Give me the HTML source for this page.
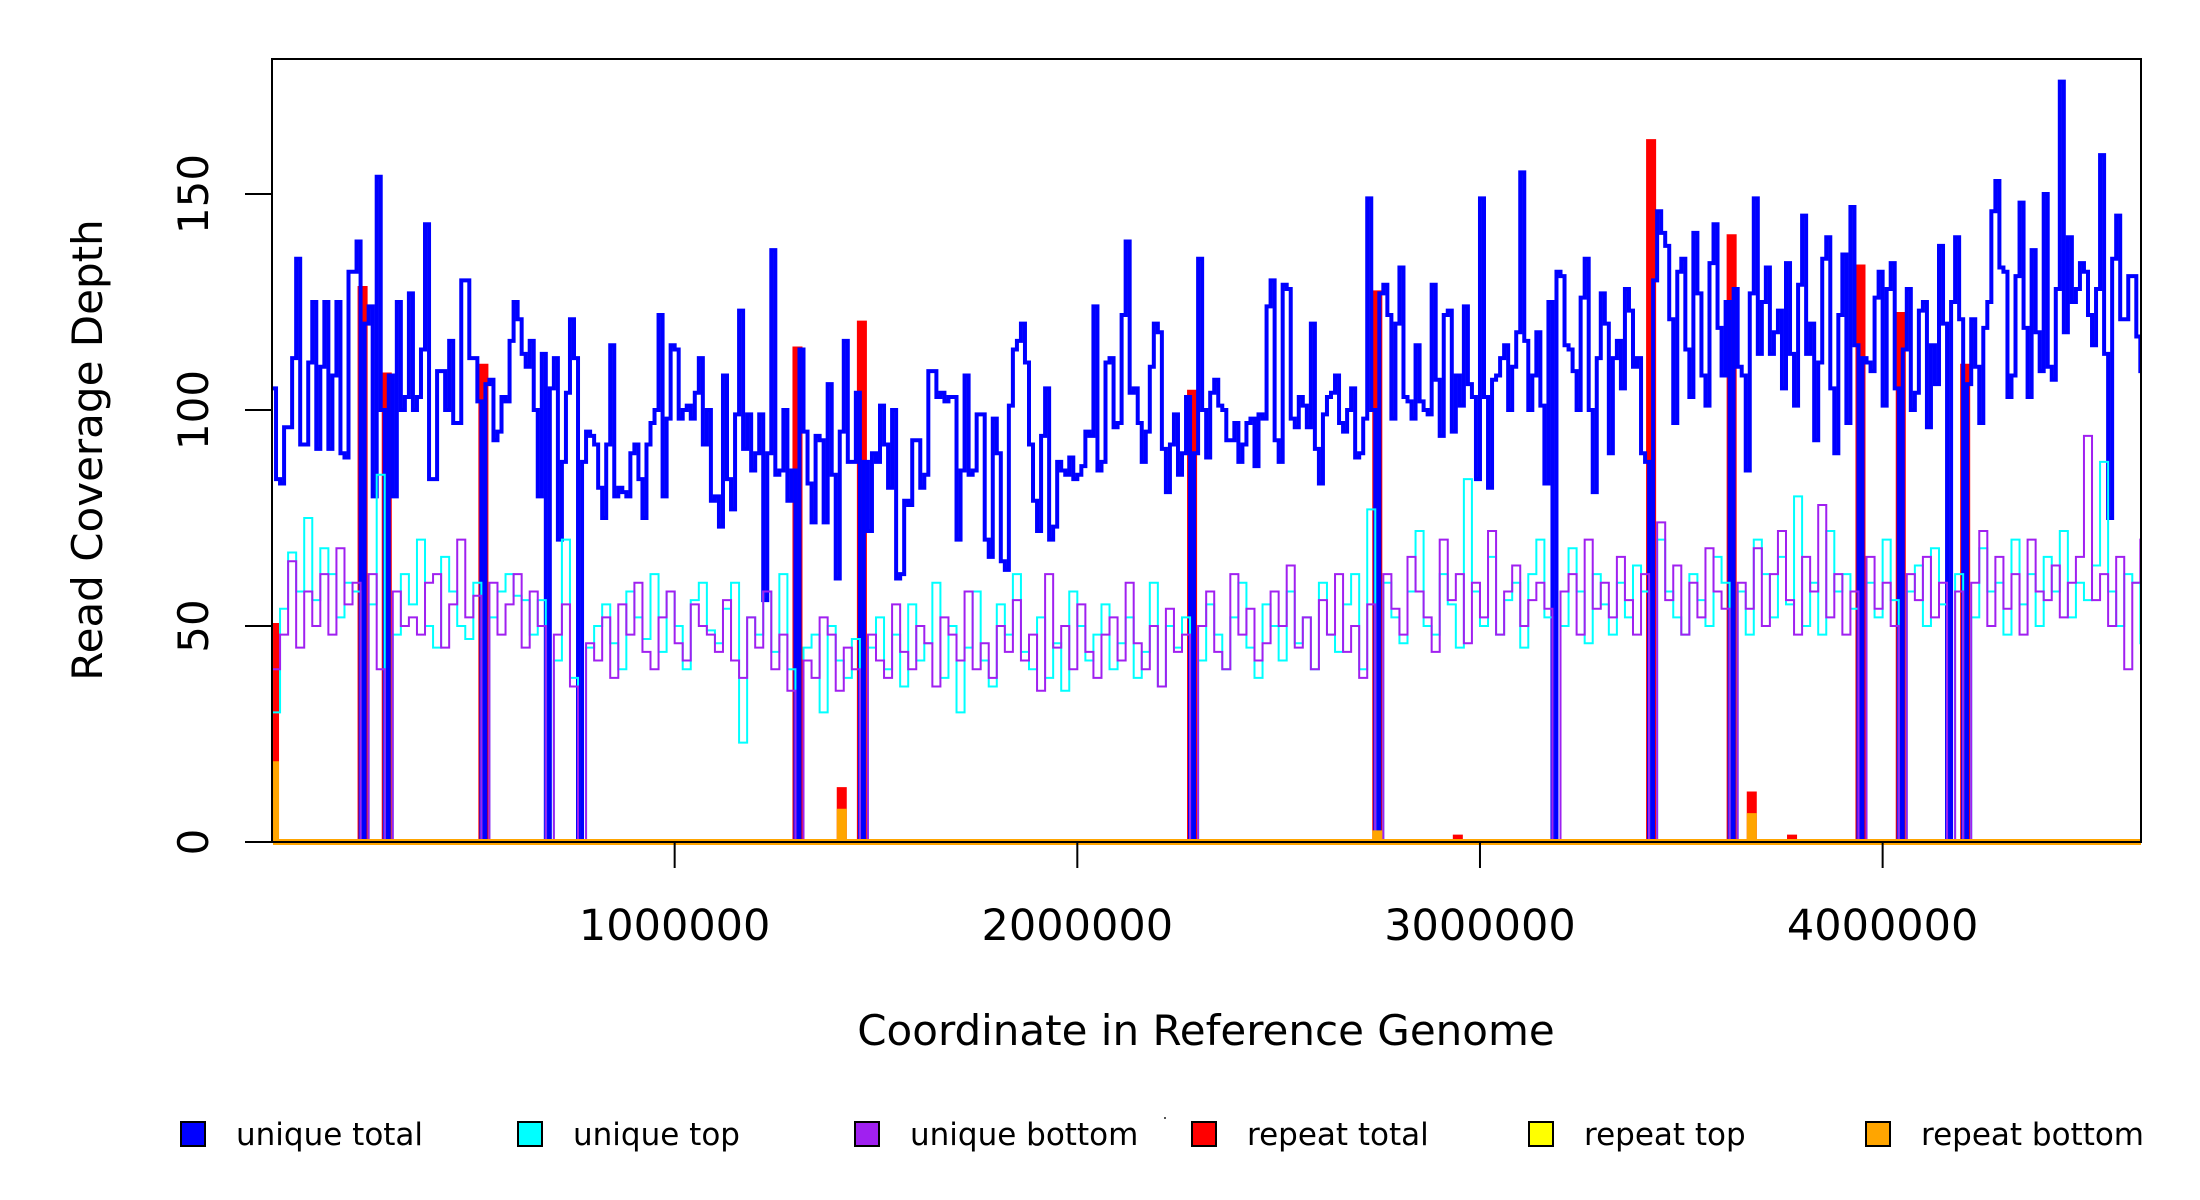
<!DOCTYPE html>
<html><head><meta charset="utf-8">
<style>
html,body{margin:0;padding:0;background:#fff;}
svg{display:block;font-family:"DejaVu Sans","Liberation Sans",sans-serif;}
</style></head>
<body>
<svg id="chart" width="2200" height="1200" viewBox="0 0 2200 1200" xmlns="http://www.w3.org/2000/svg">
<defs><clipPath id="plotclip"><rect x="272" y="59" width="1869" height="790"/></clipPath></defs>
<g id="series" clip-path="url(#plotclip)"></g>
<rect x="272" y="59" width="1869" height="783" fill="none" stroke="#000" stroke-width="2"/>
<g id="axes"></g>
<text x="1206" y="1045" font-size="42" text-anchor="middle">Coordinate in Reference Genome</text>
<text transform="translate(102,450) rotate(-90)" font-size="42" text-anchor="middle">Read Coverage Depth</text>
<g id="legend"></g>
<rect x="1164" y="1117" width="2" height="2" fill="#555"/>
</svg>
<script>
const totalBinSize = 10000;
const strandBinSize = 20000;
const genomeLength = 4641652;
const xTicks = [1000000, 2000000, 3000000, 4000000];
const xTickLabels = ["1000000", "2000000", "3000000", "4000000"];
const yTicks = [0, 50, 100, 150];
const yTickLabels = ["0", "50", "100", "150"];
const uniqueTotal = [105,84,83,96,96,112,135,92,92,111,125,91,110,125,91,108,125,90,89,132,
132,139,0,120,124,80,154,100,0,108,80,125,100,103,127,100,103,114,143,84,
84,109,109,100,116,97,97,130,130,112,112,102,0,106,107,93,95,103,102,116,
125,121,113,110,116,100,80,113,0,105,112,70,88,104,121,112,0,88,95,94,
92,82,75,92,115,80,82,81,80,90,92,84,75,92,97,100,122,80,98,115,
114,98,100,101,98,104,112,92,100,79,80,73,108,84,77,99,123,91,99,86,
90,99,56,90,137,85,86,100,79,86,0,114,95,83,74,94,93,74,106,85,
61,95,116,88,88,104,0,88,72,90,88,101,92,82,100,61,62,79,78,93,
93,82,85,109,109,103,104,102,103,103,70,86,108,85,86,99,99,70,66,98,
90,65,63,101,114,116,120,111,92,79,72,94,105,70,73,88,86,85,89,84,
85,87,95,94,124,86,88,111,112,96,97,122,139,104,105,97,88,95,110,120,
118,91,81,92,99,85,90,103,0,90,135,100,89,104,107,101,100,93,93,97,
88,92,97,98,87,99,98,124,130,93,88,129,128,98,96,103,101,96,120,91,
83,99,103,104,108,97,95,100,105,89,90,98,149,100,0,127,129,122,98,120,
133,103,102,98,115,102,100,99,129,107,94,122,123,95,108,101,124,106,103,84,
149,103,82,107,108,112,115,100,110,118,155,116,100,108,118,101,83,125,0,132,
131,115,114,109,100,126,135,100,81,112,127,120,90,112,116,105,128,123,110,112,
90,88,0,130,146,141,138,121,97,132,135,114,103,141,127,108,101,134,143,119,
108,125,0,128,110,108,86,127,149,113,125,133,113,118,123,105,134,113,101,129,
145,113,120,93,111,135,140,105,90,122,136,97,147,115,0,112,111,109,126,132,
101,128,134,105,0,114,128,100,104,123,125,96,115,106,138,120,0,125,140,121,
0,106,121,110,97,119,125,146,153,133,132,103,108,131,148,119,103,137,118,109,
150,110,107,128,176,118,140,125,128,134,132,122,115,128,159,113,75,135,145,121,
121,131,131,117,109,120];
const uniqueTop = [30,54,67,58,75,56,68,62,52,60,58,0,55,85,0,48,62,55,70,50,45,66,58,50,47,60,0,52,58,62,57,56,48,56,0,42,70,38,0,45,50,55,46,40,58,52,47,62,44,58,50,40,56,60,49,46,54,60,23,52,48,58,44,62,40,0,45,48,30,50,42,38,47,0,45,52,40,48,36,55,42,46,60,38,50,30,45,58,42,36,55,48,62,44,40,52,38,46,35,58,50,42,48,55,40,46,52,38,44,60,36,50,45,52,0,42,55,48,40,52,60,45,38,55,50,42,58,46,52,40,60,48,44,55,62,40,77,0,60,52,46,58,72,50,48,62,55,45,84,58,50,66,48,56,60,45,62,70,52,0,50,68,58,46,62,55,48,60,52,64,58,0,70,58,52,48,62,56,50,66,60,0,58,48,70,62,52,66,55,80,50,60,48,72,58,62,54,0,60,52,70,56,0,58,64,50,68,55,0,62,0,52,68,58,60,48,70,55,62,50,66,58,72,52,60,56,64,88,58,50,62,60,46];
const uniqueBottom = [40,48,65,45,58,50,62,48,68,55,60,0,62,40,0,58,50,52,48,60,62,45,55,70,52,57,0,60,48,55,62,45,58,50,0,48,55,36,0,46,42,52,38,55,48,60,44,40,52,58,46,42,55,50,48,44,56,42,38,52,45,58,40,48,35,0,42,38,52,48,35,45,40,0,48,42,38,55,44,40,50,46,36,52,48,42,58,40,46,38,50,44,56,42,48,35,62,45,50,40,55,44,38,48,52,42,60,46,40,50,36,54,44,48,0,50,58,44,40,62,48,54,42,46,58,50,64,45,52,40,56,48,62,44,50,38,55,0,62,54,48,66,58,52,44,70,56,62,46,60,52,72,48,58,64,50,56,60,54,0,58,62,48,70,54,60,52,66,56,48,62,0,74,56,64,48,60,52,68,58,54,0,60,54,68,50,62,72,56,48,66,58,78,52,62,48,58,0,66,54,60,50,0,62,56,66,52,60,0,58,0,60,72,50,66,54,62,48,70,58,56,64,52,60,66,94,56,62,50,66,40,60,70];
const repeatBins = [0, 22, 28, 52, 130, 141, 146, 228, 274, 294, 342, 362, 367, 377, 394, 404, 420];
const repeatTotalVals = [50, 128, 108, 110, 114, 12, 120, 104, 127, 1, 162, 140, 11, 1, 133, 122, 110];
const repeatTopVals = [10, 0, 0, 0, 0, 3, 0, 0, 2, 0, 0, 0, 3, 0, 0, 0, 0];
const repeatBottomVals = [18, 0, 0, 0, 0, 7, 0, 0, 2, 0, 0, 0, 6, 0, 0, 0, 0];

const X0 = 272, X1 = 2141, Y0 = 842, PXU = 4.32;
const xs = v => X0 + v / genomeLength * (X1 - X0);
const ys = v => Y0 - v * PXU;
const NS = "http://www.w3.org/2000/svg";
const nRepeat = Math.ceil(genomeLength / totalBinSize);

function expand(bins, vals) {
  const out = new Array(nRepeat).fill(0);
  bins.forEach((b, i) => { out[b] = vals[i]; });
  return out;
}
function stepPath(vals, bs) {
  let d = "M" + xs(0).toFixed(2) + " " + ys(vals[0]).toFixed(2);
  for (let i = 0; i < vals.length; i++) {
    d += " H" + xs((i + 1) * bs).toFixed(2);
    if (i + 1 < vals.length) d += " V" + ys(vals[i + 1]).toFixed(2);
  }
  return d;
}
const seriesG = document.getElementById("series");
function addSeries(vals, bs, color, w, name) {
  const p = document.createElementNS(NS, "path");
  p.setAttribute("d", stepPath(vals, bs));
  p.setAttribute("fill", "none");
  p.setAttribute("stroke", color);
  p.setAttribute("stroke-width", w);
  p.setAttribute("stroke-linejoin", "miter");
  
  
  seriesG.appendChild(p);
}
addSeries(expand(repeatBins, repeatTotalVals), totalBinSize, "#ff0000", 6, "repeat-total-line");
addSeries(uniqueTotal, totalBinSize, "#0000ff", 4, "unique-total-line");
addSeries(uniqueTop, strandBinSize, "#00ffff", 2, "unique-top-line");
addSeries(uniqueBottom, strandBinSize, "#a020f0", 2, "unique-bottom-line");
addSeries(expand(repeatBins, repeatTopVals), totalBinSize, "#ffff00", 2, "repeat-top-line");
addSeries(expand(repeatBins, repeatBottomVals), totalBinSize, "#ffa500", 6, "repeat-bottom-line");

const axesG = document.getElementById("axes");
xTicks.forEach((t, i) => {
  const l = document.createElementNS(NS, "line");
  l.setAttribute("x1", xs(t)); l.setAttribute("x2", xs(t));
  l.setAttribute("y1", 842); l.setAttribute("y2", 868);
  l.setAttribute("stroke", "#000"); l.setAttribute("stroke-width", 2);
  
  
  axesG.appendChild(l);
  const tx = document.createElementNS(NS, "text");
  tx.setAttribute("x", xs(t)); tx.setAttribute("y", 940);
  tx.setAttribute("font-size", 43); tx.setAttribute("text-anchor", "middle");
  tx.textContent = xTickLabels[i];
  
  
  axesG.appendChild(tx);
});
yTicks.forEach((t, i) => {
  const l = document.createElementNS(NS, "line");
  l.setAttribute("x1", 245); l.setAttribute("x2", 272);
  l.setAttribute("y1", ys(t)); l.setAttribute("y2", ys(t));
  l.setAttribute("stroke", "#000"); l.setAttribute("stroke-width", 2);
  
  
  axesG.appendChild(l);
  const tx = document.createElementNS(NS, "text");
  tx.setAttribute("transform", "translate(208," + ys(t) + ") rotate(-90)");
  tx.setAttribute("font-size", 42); tx.setAttribute("text-anchor", "middle");
  tx.textContent = yTickLabels[i];
  
  
  axesG.appendChild(tx);
});
const yAxisLine = document.createElementNS(NS, "line");
yAxisLine.setAttribute("x1", 272); yAxisLine.setAttribute("x2", 272);
yAxisLine.setAttribute("y1", ys(0)); yAxisLine.setAttribute("y2", ys(150));
yAxisLine.setAttribute("stroke", "#000"); yAxisLine.setAttribute("stroke-width", 2);


axesG.appendChild(yAxisLine);

const legendLabels = ["unique total", "unique top", "unique bottom", "repeat total", "repeat top", "repeat bottom"];
const legendColors = ["#0000ff", "#00ffff", "#a020f0", "#ff0000", "#ffff00", "#ffa500"];
const legendG = document.getElementById("legend");
legendLabels.forEach((lab, i) => {
  const x = 181 + i * 337;
  const r = document.createElementNS(NS, "rect");
  r.setAttribute("x", x); r.setAttribute("y", 1122);
  r.setAttribute("width", 24); r.setAttribute("height", 24);
  r.setAttribute("fill", legendColors[i]); r.setAttribute("stroke", "#000"); r.setAttribute("stroke-width", 2);
  
  
  legendG.appendChild(r);
  const tx = document.createElementNS(NS, "text");
  tx.setAttribute("x", x + 55); tx.setAttribute("y", 1145);
  tx.setAttribute("font-size", 31);
  tx.textContent = lab;
  
  
  legendG.appendChild(tx);
});
</script>
</body></html>
